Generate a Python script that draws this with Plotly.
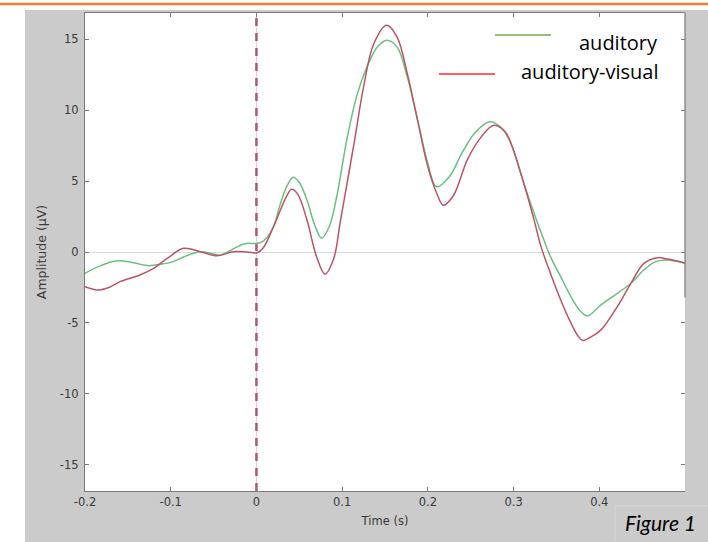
import plotly.graph_objects as go

# ---- data ----
time_auditory = [-0.2, -0.185, -0.17, -0.159, -0.14, -0.127, -0.11, -0.097, -0.085, -0.074,
                 -0.065, -0.05, -0.042, -0.032, -0.022, -0.011, 0.0, 0.006, 0.012, 0.02,
                 0.028, 0.036, 0.043, 0.05, 0.059, 0.068, 0.076, 0.085, 0.094, 0.106,
                 0.118, 0.129, 0.141, 0.152, 0.164, 0.176, 0.188, 0.2, 0.21, 0.225,
                 0.24, 0.255, 0.272, 0.285, 0.297, 0.312, 0.324, 0.332, 0.343, 0.355,
                 0.367, 0.377, 0.386, 0.402, 0.421, 0.437, 0.452, 0.465, 0.476, 0.49, 0.5]
amp_auditory = [-1.5, -1.05, -0.7, -0.61, -0.8, -0.96, -0.85, -0.68, -0.35, -0.1,
                0.02, -0.14, -0.21, 0.05, 0.38, 0.61, 0.6, 0.7, 1.0, 1.8,
                3.4, 4.7, 5.27, 4.9, 3.66, 1.9, 0.98, 1.8, 4.0, 8.1,
                11.2, 13.05, 14.46, 14.93, 14.46, 12.35, 9.3, 6.24, 4.6, 5.3,
                7.0, 8.4, 9.18, 8.8, 7.65, 4.83, 2.72, 1.4, -0.33, -1.74,
                -3.15, -4.1, -4.51, -3.73, -2.91, -2.2, -1.27, -0.7, -0.56, -0.65, -0.8]

time_audiovisual = [-0.2, -0.184, -0.172, -0.159, -0.136, -0.12, -0.104, -0.085, -0.065, -0.046,
                    -0.027, -0.011, 0.001, 0.008, 0.02, 0.028, 0.035, 0.041, 0.048, 0.059,
                    0.07, 0.08, 0.09, 0.098, 0.114, 0.125, 0.137, 0.152, 0.164, 0.176,
                    0.188, 0.2, 0.21, 0.218, 0.23, 0.246, 0.262, 0.277, 0.29, 0.297,
                    0.312, 0.324, 0.332, 0.343, 0.355, 0.367, 0.375, 0.381, 0.39, 0.402,
                    0.421, 0.437, 0.452, 0.468, 0.48, 0.5]
amp_audiovisual = [-2.44, -2.68, -2.5, -2.09, -1.62, -1.15, -0.45, 0.26, 0.02, -0.26,
                   0.02, 0.0, -0.05, 0.3, 1.8, 2.96, 3.9, 4.42, 4.1, 2.25,
                   -0.3, -1.56, -0.5, 2.2, 7.7, 11.64, 14.7, 15.99, 15.16, 12.58,
                   9.3, 6.0, 4.2, 3.3, 4.0, 6.5, 8.1, 8.94, 8.5, 7.65,
                   4.83, 2.25, 0.38, -1.5, -3.38, -5.02, -5.9, -6.24, -6.0, -5.49,
                   -3.85, -2.2, -0.8, -0.4, -0.5, -0.77]

series_names = ["auditory", "auditory-visual"]
x_ticks = [-0.2, -0.1, 0, 0.1, 0.2, 0.3, 0.4, 0.5]
x_tick_labels = ["-0.2", "-0.1", "0", "0.1", "0.2", "0.3", "0.4", ""]
y_ticks = [-15, -10, -5, 0, 5, 10, 15]
y_tick_labels = ["-15", "-10", "-5", "0", "5", "10", "15"]
x_title = "Time (s)"
y_title = "Amplitude (μV)"
caption = "Figure 1"

# ---- styles ----
GREEN = "#6cbf80"
RED = "#bb5563"
FRAME = "#7a7a7a"
TICKFONT = dict(family="DejaVu Sans", size=11.5, color="#3a3a3a")

fig = go.Figure()
fig.add_trace(go.Scatter(x=time_auditory, y=amp_auditory, mode="lines", name=series_names[0],
                         line=dict(color=GREEN, width=1.5, shape="spline", smoothing=1.0),
                         showlegend=False))
fig.add_trace(go.Scatter(x=time_audiovisual, y=amp_audiovisual, mode="lines", name=series_names[1],
                         line=dict(color=RED, width=1.5, shape="spline", smoothing=1.0),
                         showlegend=False))
# invisible trace to activate right tick axis
fig.add_trace(go.Scatter(x=[None], y=[None], yaxis="y2", showlegend=False, hoverinfo="skip"))

L, R, T, B = 85, 23, 13, 51
W, H = 708, 542
pw, ph = W - L - R, H - T - B


def px(xp):
    return (xp - L) / pw


def py(yp):
    return (H - B - yp) / ph


shapes = [
    # white slide margins (left + top)
    dict(type="rect", xref="paper", yref="paper", x0=px(-5), x1=px(25), y0=py(560), y1=py(-5),
         fillcolor="white", line=dict(width=0), layer="below"),
    dict(type="rect", xref="paper", yref="paper", x0=px(-5), x1=px(715), y0=py(10), y1=py(-5),
         fillcolor="white", line=dict(width=0), layer="below"),
    # orange slide rule
    dict(type="line", xref="paper", yref="paper", x0=px(0), x1=px(708), y0=py(4), y1=py(4),
         line=dict(color="#ed7d31", width=2.5), layer="above"),
    # stimulus onset line
    dict(type="line", xref="x", yref="paper", x0=0, x1=0, y0=0, y1=1,
         line=dict(color="#f4c9cf", width=1), layer="below"),
    dict(type="line", xref="x", yref="paper", x0=0, x1=0, y0=0, y1=1,
         line=dict(color="#a85a72", width=2.5, dash="8px,7px"), layer="below"),
    # partial right frame
    dict(type="line", xref="paper", yref="y", x0=1, x1=1, y0=-3.2, y1=16.85,
         line=dict(color=FRAME, width=1.2), layer="above"),
    # legend lines
    dict(type="line", xref="paper", yref="paper", x0=px(495), x1=px(551), y0=py(35), y1=py(35),
         line=dict(color="#70ad47", width=1.5), layer="above"),
    dict(type="line", xref="paper", yref="paper", x0=px(439), x1=px(495), y0=py(74), y1=py(74),
         line=dict(color="#ff2a2a", width=1.5), layer="above"),
    # caption box
    dict(type="rect", xref="paper", yref="paper", x0=px(615), x1=px(712), y0=py(548), y1=py(506),
         fillcolor="#cbcbcb", line=dict(color="#d6d6d6", width=1), layer="above"),
]

annotations = [
    dict(text=series_names[0], xref="paper", yref="paper", x=px(660), y=py(42),
         xanchor="right", yanchor="middle", showarrow=False,
         font=dict(family="Open Sans", size=20, color="black")),
    dict(text=series_names[1], xref="paper", yref="paper", x=px(660), y=py(71),
         xanchor="right", yanchor="middle", showarrow=False,
         font=dict(family="Open Sans", size=20, color="black")),
    dict(text="<i>" + caption + "</i>", xref="paper", yref="paper", x=px(623), y=py(522),
         xanchor="left", yanchor="middle", showarrow=False,
         font=dict(family="Lato", size=21, color="black")),
]

fig.update_layout(
    width=W, height=H,
    margin=dict(l=L, r=R, t=T, b=B, autoexpand=False),
    paper_bgcolor="#cbcbcb",
    plot_bgcolor="white",
    showlegend=False,
    shapes=shapes,
    annotations=annotations,
    xaxis=dict(range=[-0.2, 0.5], tickvals=x_ticks, ticktext=x_tick_labels,
               ticks="inside", ticklen=4, tickcolor=FRAME, tickwidth=1,
               showline=True, linecolor=FRAME, linewidth=1.2, mirror="ticks",
               showgrid=False, zeroline=False, tickfont=TICKFONT,
               title=dict(text=x_title, font=dict(family="DejaVu Sans", size=11.5, color="#3a3a3a"),
                          standoff=9), automargin=False),
    yaxis=dict(range=[-16.85, 16.85], tickvals=y_ticks, ticktext=y_tick_labels,
               ticks="inside", ticklen=4, tickcolor=FRAME, tickwidth=1,
               showline=True, linecolor=FRAME, linewidth=1.2, mirror=False,
               showgrid=False, zeroline=True, zerolinecolor="#dadada", zerolinewidth=1,
               tickfont=TICKFONT, ticklabelstandoff=3,
               title=dict(text=y_title, font=dict(family="DejaVu Sans", size=12.5, color="#3a3a3a"),
                          standoff=10), automargin=False),
    yaxis2=dict(range=[-16.85, 16.85], tickvals=y_ticks, overlaying="y", side="right",
                ticks="inside", ticklen=4, tickcolor=FRAME, showticklabels=False,
                showline=False, showgrid=False, zeroline=False),
)

fig.write_html("out.html", config={"displayModeBar": False},
               post_script="document.body.style.margin='0';document.body.style.padding='0';")
